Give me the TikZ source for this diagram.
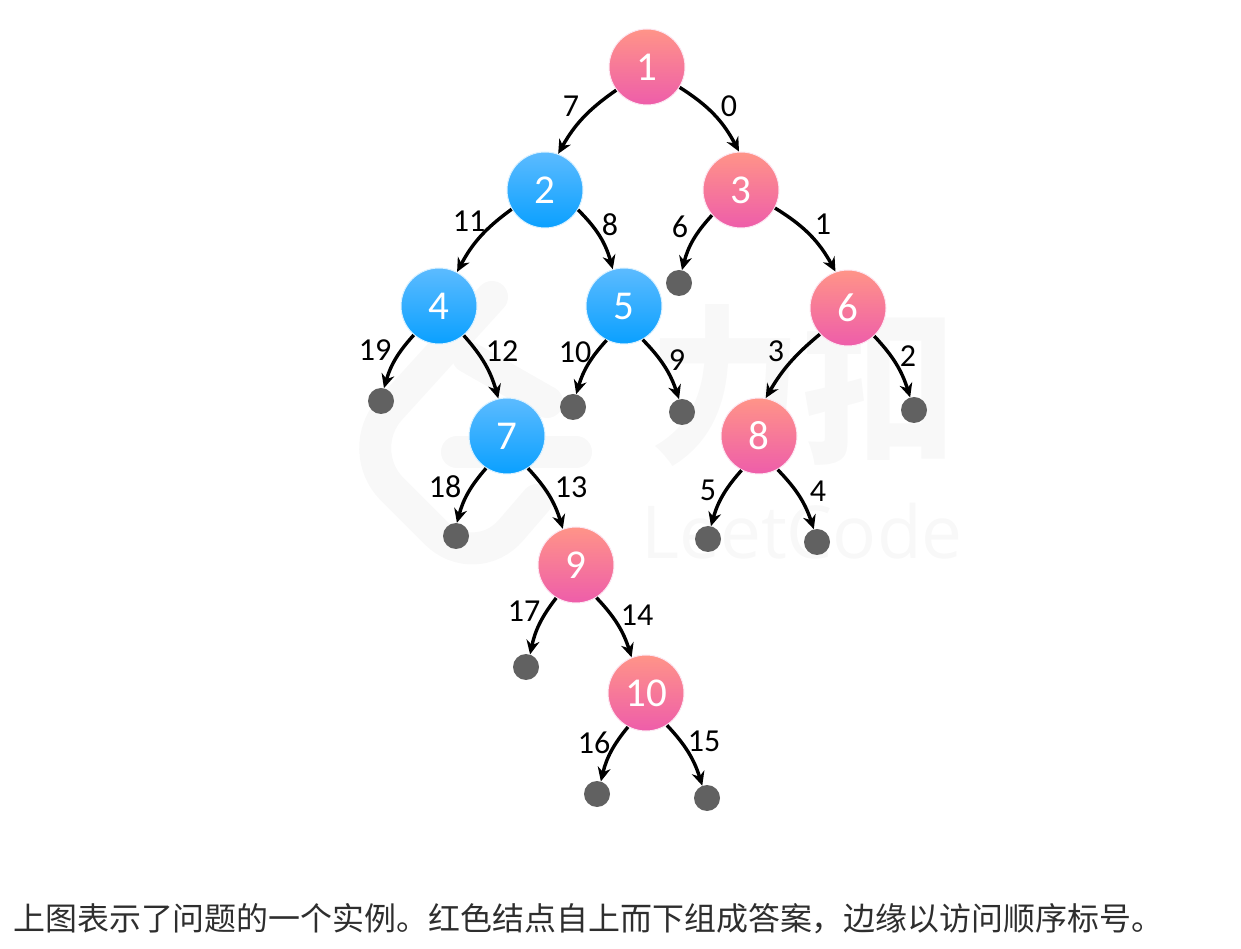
\documentclass[tikz,border=0pt]{standalone}
\usepackage{fontspec}
\setmainfont{Carlito}
\newfontfamily\cjk{Noto Sans CJK SC}
\newfontfamily\marcafont{Open Sans}
\usetikzlibrary{arrows.meta}

\definecolor{marca}{HTML}{F8F8F8}
\definecolor{red1}{HTML}{FF9488}
\definecolor{red2}{HTML}{EE5DAA}
\definecolor{blue1}{HTML}{5CBBFF}
\definecolor{blue2}{HTML}{0AA0FF}

\tikzstyle{rojo}= [circle,minimum size=76pt,inner sep=0pt,top color=red1,bottom color=red2,draw=red2!15,line width=1pt,text=white,font=\fontsize{41}{41}\selectfont]
\tikzstyle{azul}= [circle,minimum size=76pt,inner sep=0pt,top color=blue1,bottom color=blue2,draw=blue2!15,line width=1pt,text=white,font=\fontsize{41}{41}\selectfont]
\tikzstyle{hoja}= [circle,minimum size=26pt,inner sep=0pt,fill=black!62]
\tikzstyle{etiq}= [inner sep=0pt,font=\fontsize{32}{32}\selectfont]
\tikzstyle{arco}= [black,line width=3.4pt,-{Stealth[length=14pt,width=13pt]}]
\tikzstyle{marcaline}= [marca,line width=32pt,line cap=round,line join=round]

\begin{document}
\begin{tikzpicture}[x=1pt,y=1pt]

		\useasboundingbox (0,0) rectangle (1241,948);

		% marca de agua
		\draw[marcaline,rounded corners=55pt] (492,651) -- (353,498) -- (475,376) -- (537,448);
		\draw[marcaline] (468,591) -- (547,546);
		\draw[marcaline] (457,496) -- (576,496);
		\node (wm1) at (802,563) [xscale=.9,text=marca,font=\cjk\bfseries\fontsize{170}{170}\selectfont] {力扣};
		\node (wm2) at (802,417) [text=marca,font=\marcafont\fontsize{73}{73}\selectfont] {LeetCode};

		\node (n1) at (647,881) [rojo] {1};
		\node (n2) at (545,758) [azul] {2};
		\node (n3) at (741,758) [rojo] {3};
		\node (n4) at (439,642) [azul] {4};
		\node (n5) at (624,642) [azul] {5};
		\node (n6) at (848,640) [rojo] {6};
		\node (n7) at (507,512) [azul] {7};
		\node (n8) at (759,512) [rojo] {8};
		\node (n9) at (576,383) [rojo] {9};
		\node (n10) at (646,255) [rojo] {10};

		\node (h3) at (679,665) [hoja] {};
		\node (h4) at (381,547) [hoja] {};
		\node (h5a) at (573,541) [hoja] {};
		\node (h5b) at (682,536) [hoja] {};
		\node (h6) at (914,538) [hoja] {};
		\node (h7) at (456,412) [hoja] {};
		\node (h8a) at (708,409) [hoja] {};
		\node (h8b) at (817,406) [hoja] {};
		\node (h9) at (526,281) [hoja] {};
		\node (h10a) at (597,154) [hoja] {};
		\node (h10b) at (707,150) [hoja] {};

		\node (e7) at (571,842) [etiq] {7};
		\node (e0) at (729,842) [etiq] {0};
		\node (e11) at (469,727) [etiq] {11};
		\node (e8) at (610,723) [etiq] {8};
		\node (e6) at (680,721) [etiq] {6};
		\node (e1) at (823,724) [etiq] {1};
		\node (e19) at (375,598) [etiq] {19};
		\node (e12) at (502,597) [etiq] {12};
		\node (e10) at (575,596) [etiq] {10};
		\node (e9) at (677,588) [etiq] {9};
		\node (e3) at (776,597) [etiq] {3};
		\node (e2) at (908,592) [etiq] {2};
		\node (e18) at (445,461) [etiq] {18};
		\node (e13) at (571,461) [etiq] {13};
		\node (e5) at (708,458) [etiq] {5};
		\node (e4) at (818,457) [etiq] {4};
		\node (e17) at (524,337) [etiq] {17};
		\node (e14) at (637,333) [etiq] {14};
		\node (e16) at (594,205) [etiq] {16};
		\node (e15) at (704,207) [etiq] {15};

		\draw[arco] (n1.217) to[bend right=13] (n2.70);
		\draw[arco] (n1.-32) to[bend left=15] (n3.93);
		\draw[arco] (n2.210) to[bend right=13] (n4.62);
		\draw[arco] (n2.-31) to[bend left=15] (n5.107);
		\draw[arco] (n3.221) to[bend right=14] (h3.77);
		\draw[arco] (n3.-28) to[bend left=15] (n6.109);
		\draw[arco] (n4.229) to[bend right=13] (h4.77);
		\draw[arco] (n4.-50) to[bend left=13] (n7.103);
		\draw[arco] (n5.243) to[bend right=13] (h5a.76);
		\draw[arco] (n5.-61) to[bend left=13] (h5b.103);
		\draw[arco] (n6.223) to[bend right=10] (n8.80);
		\draw[arco] (n6.-47) to[bend left=13] (h6.107);
		\draw[arco] (n7.237) to[bend right=13] (h7.86);
		\draw[arco] (n7.-57) to[bend left=13] (n9.110);
		\draw[arco] (n8.243) to[bend right=13] (h8a.77);
		\draw[arco] (n8.-61) to[bend left=13] (h8b.104);
		\draw[arco] (n9.239) to[bend right=13] (h9.72);
		\draw[arco] (n9.-58) to[bend left=13] (n10.112);
		\draw[arco] (n10.242) to[bend right=13] (h10a.73);
		\draw[arco] (n10.-57) to[bend left=13] (h10b.111);

		\node (pie) at (13,29) [anchor=west,inner sep=0pt,text=black!82,font=\cjk\fontsize{31.95}{32}\selectfont] {上图表示了问题的一个实例。红色结点自上而下组成答案\symbol{"FF0C}边缘以访问顺序标号。};

	\end{tikzpicture}
\end{document}
